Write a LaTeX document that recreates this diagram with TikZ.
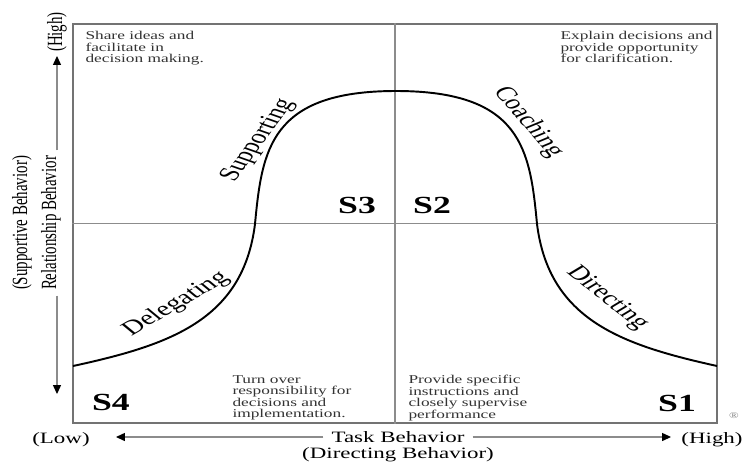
\documentclass[tikz,border=0pt]{standalone}
\usepackage{fontspec}
\setmainfont{Liberation Serif}
\usetikzlibrary{arrows.meta,positioning,calc,fit}

\begin{document}
\begin{tikzpicture}[x=0.02cm, y=-0.02cm]
    \tikzset{
        txt/.style={xscale=1.45, inner sep=0pt, text=black},
        note/.style={txt, align=left, anchor=north west, text=black!80, font=\fontsize{6.8}{6.6}\selectfont},
        quad/.style={txt, font=\fontsize{14}{14}\selectfont\bfseries},
        curvelab/.style={txt, font=\fontsize{11.5}{11.5}\selectfont},
        axlab/.style={txt, inner sep=3pt, font=\fontsize{9}{9}\selectfont},
        sidelab/.style={txt, rotate=90, inner sep=3pt, font=\fontsize{8.5}{8.5}\selectfont},
        frame/.style={draw=black!55, line width=1.2pt},
        midline/.style={draw=black!45, line width=0.7pt},
        curve/.style={draw=black, line width=1.1pt},
        axis/.style={draw=black!45, line width=0.6pt, -{Triangle[length=5pt,width=4.5pt,color=black]}}
    }
    \useasboundingbox (0,0) rectangle (743,463);

    % quadrant frame
    \coordinate (nw) at (73,24);
    \coordinate (se) at (717,423);
    \node [frame, fit=(nw)(se), inner sep=0pt] (box) {};
    \draw [midline] (box.north) -- (box.south);
    \draw [midline] (box.west) -- (box.east);

    % leadership curve
    \coordinate (cl) at (73,366);
    \coordinate (cml) at (255,224);
    \coordinate (ctop) at (396,91);
    \coordinate (cmr) at (537,224);
    \coordinate (cr) at (717,366);
    \draw [curve] (cl) .. controls (170,345) and (243,320) .. (cml)
        .. controls (262,150) and (270,91) .. (ctop)
        .. controls (522,91) and (530,150) .. (cmr)
        .. controls (549,320) and (622,345) .. (cr);

    \node [curvelab, rotate=40] (deleg) at (176,304) {Delegating};
    \node [curvelab, rotate=63] (supp) at (258,140) {Supporting};
    \node [curvelab, rotate=-59] (coach) at (528,122) {Coaching};
    \node [curvelab, rotate=-49] (direct) at (607,298) {Directing};

    % styles
    \node [quad] (s3) at (357,205) {S3};
    \node [quad] (s2) at (432,205) {S2};
    \node [quad] (s4) at (111,402) {S4};
    \node [quad] (s1) at (677,403) {S1};

    % notes
    \node [note] (share) at (85,31) {Share ideas and\\facilitate in\\decision making.};
    \node [note] (explain) at (560,31) {Explain decisions and\\provide opportunity\\for clarification.};
    \node [note] (turn) at (232,375) {Turn over\\responsibility for\\decisions and\\implementation.};
    \node [note] (provide) at (408,375) {Provide specific\\instructions and\\closely supervise\\performance};

    % vertical axis
    \node [sidelab] (hiY) at (57,32) {(High)};
    \node [sidelab] (sup) at (22,223) {(Supportive Behavior)};
    \node [sidelab] (rel) at (51,223) {Relationship Behavior};
    \coordinate (uptip) at (57,56);
    \coordinate (downtip) at (57,394);
    \draw [axis] (rel.east -| uptip) -- (uptip);
    \draw [axis] (rel.west -| downtip) -- (downtip);

    % horizontal axis
    \node [axlab] (task) at (398,437) {Task Behavior};
    \node [axlab, inner sep=0pt] (dirbeh) at (398,455) {(Directing Behavior)};
    \node [axlab] (lo) at (61,440) {(Low)};
    \node [axlab] (hiX) at (712,440) {(High)};
    \coordinate (lefttip) at (116,437);
    \coordinate (righttip) at (671,437);
    \draw [axis] (task.west) -- (lefttip);
    \draw [axis] (task.east) -- (righttip);

    \node [txt, text=black!50, font=\fontsize{5}{5}\selectfont] (reg) at (734,416) {®};
\end{tikzpicture}
\end{document}
